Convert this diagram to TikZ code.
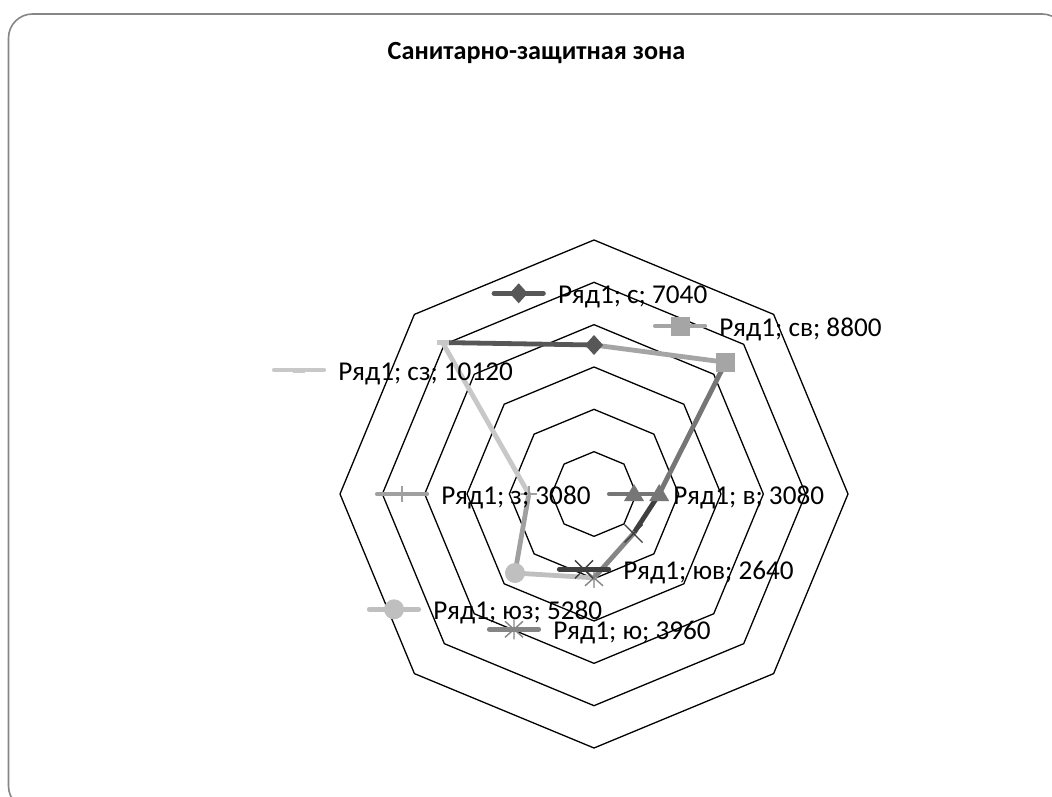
\documentclass[tikz,border=0pt]{standalone}
\usepackage{fontspec}
\setmainfont{Carlito}
\usetikzlibrary{positioning}

\definecolor{frameGray}{HTML}{868686}
\definecolor{colN}{HTML}{575757}
\definecolor{colNE}{HTML}{A5A5A5}
\definecolor{colE}{HTML}{767676}
\definecolor{colSE}{HTML}{3F3F3F}
\definecolor{colS}{HTML}{858585}
\definecolor{colSW}{HTML}{BFBFBF}
\definecolor{colW}{HTML}{A0A0A0}
\definecolor{colNW}{HTML}{C8C8C8}

\tikzset{
  gridring/.style={draw=black, line width=0.65pt, line join=miter},
  series/.style={line width=2.4pt, line cap=round, line join=round},
  ptlabel/.style={anchor=base west, inner sep=0pt, font=\fontsize{13.6}{16}\selectfont},
  pics/mdiamond/.style={code={\fill[#1] (-9,0) -- (0,10) -- (9,0) -- (0,-10) -- cycle;}},
  pics/msquare/.style={code={\fill[#1] (-9.5,-9.5) rectangle (9.5,9.5);}},
  pics/mtriangle/.style={code={\fill[#1] (-10,-7) -- (10,-7) -- (0,10) -- cycle;}},
  pics/mcross/.style={code={\draw[#1, line width=0.7pt] (-9,-9) -- (9,9) (-9,9) -- (9,-9);}},
  pics/mstar/.style={code={\draw[#1, line width=0.7pt] (-9,-8) -- (9,8) (-9,8) -- (9,-8) (0,-10) -- (0,10);}},
  pics/mcircle/.style={code={\fill[#1] (0,0) circle (10);}},
  pics/mplus/.style={code={\draw[#1, line width=0.7pt] (-8,0) -- (8,0) (0,-8) -- (0,8);}},
  pics/mdash/.style={code={\fill[#1] (-6,-2.5) rectangle (6,2.5);}}
}

\begin{document}
\begin{tikzpicture}[x=0.5pt,y=0.5pt]
  \useasboundingbox (0,0) rectangle (1052,-796);
  \clip (0,0) rectangle (1052,-796);
  \fill[white] (0,0) rectangle (1052,-796);
  \draw[frameGray, line width=0.8pt, rounded corners=12pt] (8.5,-14) rectangle (1066,-810);

  \node[font=\bfseries\fontsize{13.1}{16}\selectfont, anchor=base] (title) at (536.5,-59.3) {Санитарно-защитная зона};

  \begin{scope}[shift={(594,-494)}]
    % grid: 6 rings, 2000 each
    \foreach \i in {1,...,6}
      \draw[gridring] (0:{\i*254/6}) \foreach \a in {45,90,...,315} { -- (\a:{\i*254/6}) } -- cycle;
    % data points
    \foreach \n/\a/\v in {N/90/7040, NE/45/8800, E/0/3080, SE/-45/2640,
                          S/-90/3960, SW/-135/5280, W/180/3080, NW/135/10120}
      \coordinate (p\n) at (\a:{\v/12000*254});
  \end{scope}

  % segments, coloured by the point they run to
  \foreach \a/\b in {NW/N, N/NE, NE/E, E/SE, SE/S, S/SW, SW/W, W/NW}
    \draw[series, col\b] (p\a) -- (p\b);

  \pic at (pN) {mdiamond=colN};
  \pic at (pNE) {msquare=colNE};
  \pic at (pE) {mtriangle=colE};
  \pic at (pSE) {mcross=colSE};
  \pic at (pS) {mstar=colS};
  \pic at (pSW) {mcircle=colSW};
  \pic at (pW) {mplus=colW};
  \pic at (pNW) {mdash=colNW};

  % data labels with their keys
  \foreach \n/\x/\y/\m/\t in {N/491.7/293.3/mdiamond/с; 7040,
                              NE/653/326/msquare/св; 8800,
                              E/607/494/mtriangle/в; 3080,
                              SE/557/569.3/mcross/юв; 2640,
                              S/487/629.3/mstar/ю; 3960,
                              SW/367/609.3/mcircle/юз; 5280,
                              W/375/494/mplus/з; 3080,
                              NW/272/370/mdash/сз; 10120}
  {
    \coordinate (k\n a) at (\x+2.3,-\y);
    \coordinate (k\n b) at (\x+51.7,-\y);
    \draw[series, col\n] (k\n a) -- (k\n b);
    \pic at (\x+27,-\y) {\m=col\n};
    \node[ptlabel] (l\n) at (\x+66,-\y-10) {Ряд1; \t};
  }
\end{tikzpicture}
\end{document}
